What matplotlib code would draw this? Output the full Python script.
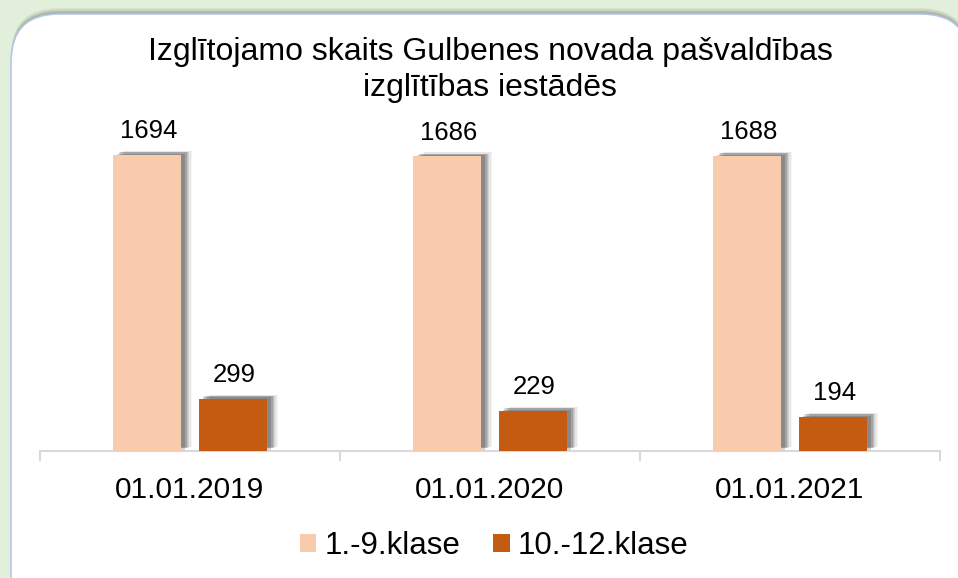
import matplotlib.pyplot as plt
import matplotlib.patheffects as pe
from matplotlib.patches import FancyBboxPatch, Patch
import numpy as np

plt.rcParams["font.family"] = ["Liberation Sans", "DejaVu Sans"]

dates = ["01.01.2019", "01.01.2020", "01.01.2021"]
series_names = ["1.-9.klase", "10.-12.klase"]
grade_1_9 = [1694, 1686, 1688]
grade_10_12 = [299, 229, 194]
colors = ["#F8CBAD", "#C55A11"]

fig = plt.figure(figsize=(9.58, 5.78), dpi=100)
fig.patch.set_facecolor("#E2EFDA")

# white rounded panel with a soft grey shadow along its top
W, H = 958, 578
for i, a in enumerate([0.05, 0.07, 0.09, 0.12]):
    sh = FancyBboxPatch((11 / W, -0.1), 1.0, (H - 8 - i * 1.5 + 0.1 * H) / H,
                        boxstyle="round,pad=0,rounding_size=0.05",
                        transform=fig.transFigure, facecolor="black", alpha=a,
                        edgecolor="none", zorder=0, mutation_aspect=W / H)
    fig.patches.append(sh)
panel = FancyBboxPatch((11 / W, -0.1), 1.0, (H - 14 + 0.1 * H) / H,
                       boxstyle="round,pad=0,rounding_size=0.05",
                       transform=fig.transFigure, facecolor="white",
                       edgecolor="#B4C7E7", linewidth=1.2, zorder=0,
                       mutation_aspect=W / H)
fig.patches.append(panel)

# axes: baseline at y=451 px, x from 40 to 940 px
ymax = 1900
px_per_unit = 296 / 1694
ax_h = ymax * px_per_unit
ax = fig.add_axes([40 / W, (H - 451) / H, 900 / W, ax_h / H])
ax.set_zorder(5)
ax.set_facecolor("none")

x = np.arange(len(dates))
off = 0.143
bw = 0.227


def shadow():
    # stacked offset shadows to fake a blurred drop shadow
    effs = []
    for dx, dy, a in [(8, 3, 0.04), (7, 3, 0.06), (6, 2, 0.08), (5, 2, 0.1),
                      (4, 2, 0.13), (3, 1, 0.16)]:
        effs.append(pe.SimplePatchShadow(offset=(dx, dy), shadow_rgbFace="black", alpha=a))
    effs.append(pe.Normal())
    return effs


b1 = ax.bar(x - off, grade_1_9, bw, color=colors[0], zorder=3)
b2 = ax.bar(x + off, grade_10_12, bw, color=colors[1], zorder=3)
for bars in (b1, b2):
    for r in bars:
        r.set_path_effects(shadow())
        ax.annotate(f"{int(r.get_height())}", (r.get_x() + r.get_width() / 2, r.get_height()),
                    xytext=(1, 12), textcoords="offset points", ha="center", va="baseline",
                    fontsize=18.5, color="black")

ax.set_xlim(-0.5, 2.5)
ax.set_ylim(0, ymax)
ax.set_yticks([])
for s in ["left", "right", "top"]:
    ax.spines[s].set_visible(False)
ax.spines["bottom"].set_color("#D9D9D9")
ax.spines["bottom"].set_linewidth(1.5)
ax.set_xticks([-0.5, 0.5, 1.5, 2.5])
ax.set_xticklabels([])
ax.tick_params(axis="x", length=7, color="#D9D9D9", width=1.5)
for xi, d in zip(x, dates):
    ax.text(xi, -0.075, d, transform=ax.get_xaxis_transform(), ha="center", va="top", fontsize=21.5)

fig.text(490 / W, 1 - 70 / H, "Izglītojamo skaits Gulbenes novada pašvaldības\nizglītības iestādēs",
         ha="center", va="center", fontsize=23, linespacing=1.25)

handles = [Patch(facecolor=c) for c in colors]
fig.legend(handles, series_names, loc="center", bbox_to_anchor=(494 / W, 1 - 546 / H), ncol=2,
           frameon=False, fontsize=22.5, handlelength=0.53, handleheight=0.55, handletextpad=0.25,
           columnspacing=1.05)

fig.savefig("out.png", dpi=100, facecolor=fig.get_facecolor())
